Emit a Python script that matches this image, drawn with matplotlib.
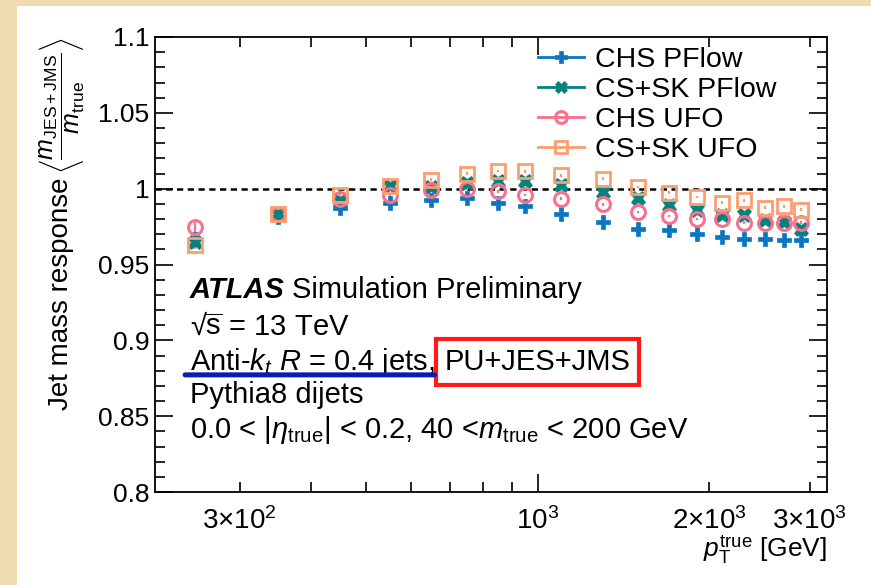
import matplotlib
matplotlib.use("Agg")
import matplotlib.pyplot as plt
from matplotlib.patches import Rectangle
from matplotlib.lines import Line2D
from matplotlib.ticker import FixedLocator, FuncFormatter

plt.rcParams['font.family'] = ['Liberation Sans', 'DejaVu Sans']
plt.rcParams['mathtext.fontset'] = 'custom'
plt.rcParams['mathtext.rm'] = 'Liberation Sans'
plt.rcParams['mathtext.it'] = 'Liberation Sans:italic'
plt.rcParams['mathtext.bf'] = 'Liberation Sans:bold'

# ---------------- data ----------------
pt_true = [250, 350, 450, 550, 650, 750, 850, 950, 1100, 1300, 1500, 1700,
           1900, 2100, 2300, 2500, 2700, 2900]

chs_pflow = [0.967, 0.981, 0.9875, 0.9907, 0.9923, 0.9940, 0.9908, 0.9885,
             0.9835, 0.978, 0.9732, 0.973, 0.970, 0.968, 0.967, 0.967, 0.966, 0.966]
cssk_pflow = [0.965, 0.983, 0.992, 1.002, 1.001, 1.004, 1.005, 1.005,
              1.0026, 0.998, 0.994, 0.989, 0.986, 0.9824, 0.9825, 0.9796, 0.978, 0.9736]
chs_ufo = [0.975, 0.983, 0.9934, 0.9956, 0.9993, 0.9997, 0.9982, 0.996,
           0.9934, 0.9896, 0.9846, 0.982, 0.980, 0.980, 0.9776, 0.9773, 0.9776, 0.9776]
cssk_ufo = [0.963, 0.983, 0.9956, 1.002, 1.006, 1.0099, 1.0116, 1.0114,
            1.0088, 1.0066, 1.001, 0.9974, 0.9945, 0.9908, 0.9923, 0.9875, 0.9883, 0.9862]

err_chs_pflow = [0.003] + [0.0008] * 17
err_cssk_pflow = [0.003] + [0.0008] * 17
err_chs_ufo = [0.004] + [0.0008] * 17
err_cssk_ufo = [0.003] + [0.0008] * 17

series_names = ["CHS PFlow", "CS+SK PFlow", "CHS UFO", "CS+SK UFO"]

y_major_ticks = [0.8, 0.85, 0.9, 0.95, 1.0, 1.05, 1.1]
x_major_ticks = [1000]
x_minor_ticks = [300, 400, 500, 600, 700, 800, 900, 2000, 3000]
x_tick_labels = {300: r"$3{\times}10^{2}$", 1000: r"$10^{3}$",
                 2000: r"$2{\times}10^{3}$", 3000: r"$3{\times}10^{3}$"}

# ---------------- figure ----------------
W, H = 871, 585
fig = plt.figure(figsize=(W / 100, H / 100), dpi=100)
fig.patch.set_facecolor('#eedcb0')
fig.patches.append(Rectangle((17 / W, 0), 1 - 17 / W, 1 - 6 / H,
                             transform=fig.transFigure, fc='white', ec='none',
                             zorder=-5))

ax = fig.add_axes([155 / W, 1 - 492 / H, 672 / W, 455 / H])
ax.set_zorder(2)
ax.set_facecolor('white')
ax.set_xscale('log')
ax.set_xlim(213, 3215)
ax.set_ylim(0.8, 1.1)

styles = [
    dict(color='#0a76c2', marker='P', ms=10.5, mfc='#0a76c2', mec='#0a76c2', mew=0.5),
    dict(color='#06827d', marker='X', ms=10.5, mfc='#06827d', mec='#06827d', mew=0.5),
    dict(color='#fb6f8c', marker='o', ms=10, mfc='none', mec='#fb6f8c', mew=2.2),
    dict(color='#fc9d70', marker='s', ms=10, mfc='none', mec='#fc9d70', mew=2.0),
]
values = [chs_pflow, cssk_pflow, chs_ufo, cssk_ufo]
errors = [err_chs_pflow, err_cssk_pflow, err_chs_ufo, err_cssk_ufo]

ax.axhline(1.0, color='black', ls=(0, (2.5, 1.8)), lw=1.8, zorder=1)

handles = []
for vals, errs, st, name in zip(values, errors, styles, series_names):
    ax.errorbar(pt_true, vals, yerr=errs, fmt='none', ecolor=st['color'],
                elinewidth=1.6, capsize=0, zorder=3)
    ax.plot(pt_true, vals, ls='none', marker=st['marker'], ms=st['ms'],
            mfc=st['mfc'], mec=st['mec'], mew=st['mew'], zorder=4)
    handles.append(Line2D([], [], color=st['color'], lw=2.0, marker=st['marker'],
                          ms=st['ms'] * 0.85, mfc=st['mfc'], mec=st['mec'],
                          mew=st['mew']))

# ticks
ax.xaxis.set_major_locator(FixedLocator(x_major_ticks))
ax.xaxis.set_minor_locator(FixedLocator(x_minor_ticks))
fmt = FuncFormatter(lambda v, p: x_tick_labels.get(int(round(v)), ""))
ax.xaxis.set_major_formatter(fmt)
ax.xaxis.set_minor_formatter(fmt)
ax.yaxis.set_major_locator(FixedLocator(y_major_ticks))
ax.yaxis.set_minor_locator(FixedLocator([0.8 + 0.01 * i for i in range(31)]))
ax.yaxis.set_major_formatter(FuncFormatter(lambda v, p: "%g" % round(v, 3)))

ax.tick_params(which='both', direction='in', top=True, right=True, width=1.2,
               color='black')
ax.tick_params(axis='y', which='major', length=13, labelsize=19, pad=4)
ax.tick_params(axis='y', which='minor', length=7)
ax.tick_params(axis='x', which='major', length=13, labelsize=20, pad=11)
ax.tick_params(axis='x', which='minor', length=7, labelsize=20, pad=11)
for s in ax.spines.values():
    s.set_linewidth(1.3)

ax.set_xlabel(r"$p_{\mathrm{T}}^{\mathrm{true}}$ [GeV]", fontsize=19, loc='right')
ax.xaxis.set_label_coords(1.0, -0.09)

# y-axis title: main words plus the bracketed ratio above them
ylab_x = (61 - 155) / 672
ax.text(ylab_x, (492 - 178) / 455, "Jet mass response", transform=ax.transAxes,
        rotation=90, ha='center', va='top', fontsize=20)
ax.text(ylab_x, 1.0,
        r"$\left\langle\dfrac{m_{\mathrm{JES+JMS}}}{m_{\mathrm{true}}}\right\rangle$",
        transform=ax.transAxes, rotation=90, ha='center', va='top', fontsize=18)

ax.legend(handles, series_names, loc='upper left', bbox_to_anchor=(0.57, 0.977),
          frameon=False, fontsize=20.5, borderpad=0, borderaxespad=0,
          labelspacing=0.13, handlelength=1.6, handletextpad=0.4)

# annotation text block
tx = 0.052
FS = 21
t_atlas = ax.text(tx, 0.426, "ATLAS", transform=ax.transAxes, fontsize=FS,
                  fontweight='bold', fontstyle='italic', va='baseline')
ax.annotate("Simulation Preliminary", xy=(1, 0.426),
            xycoords=(t_atlas, 'axes fraction'), xytext=(5, 0),
            textcoords='offset points', fontsize=FS, va='baseline')
ax.text(tx, 0.345, r"√$\overline{\mathrm{s}}$ = 13 TeV", transform=ax.transAxes,
        fontsize=FS, va='baseline')
t_anti = ax.text(tx, 0.268, r"Anti-$k_{t}$ $R$ = 0.4 jets,", transform=ax.transAxes,
                 fontsize=FS, va='baseline')
ax.annotate("PU+JES+JMS", xy=(1, 0.268), xycoords=(t_anti, 'axes fraction'),
            xytext=(7, 0), textcoords='offset points', fontsize=FS, va='baseline',
            bbox=dict(boxstyle='square,pad=0.3', fc='none', ec='#ff1a1a', lw=3.0))
ax.annotate("", xy=(-0.02, 0.1), xycoords=t_anti, xytext=(1.0, 0.1),
            textcoords=t_anti,
            arrowprops=dict(arrowstyle='-', lw=3.6, color='#0a1cb2',
                            shrinkA=0, shrinkB=0))
ax.text(tx, 0.196, "Pythia8 dijets", transform=ax.transAxes, fontsize=FS,
        va='baseline')
ax.text(tx, 0.119,
        r"0.0 < $|\eta_{\mathrm{true}}|$ < 0.2, 40 <$m_{\mathrm{true}}$ < 200 GeV",
        transform=ax.transAxes, fontsize=FS, va='baseline')

fig.savefig("out.png", dpi=100, facecolor=fig.get_facecolor())
